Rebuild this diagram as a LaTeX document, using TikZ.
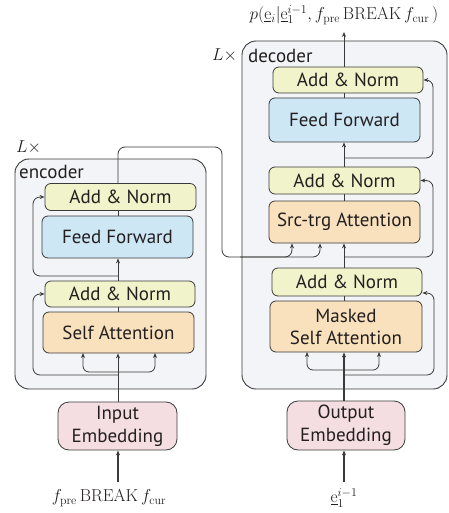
\documentclass[tikz,border=0pt]{standalone}
\usepackage[no-math]{fontspec}
\setmainfont{PT Sans}
\usetikzlibrary{arrows.meta,calc}
\definecolor{anfill}{HTML}{F1F3CB}
\definecolor{fffill}{HTML}{CDE7F5}
\definecolor{attfill}{HTML}{F8E1BC}
\definecolor{embfill}{HTML}{F5DEE2}
\definecolor{outfill}{HTML}{F3F4F7}
\definecolor{edge}{HTML}{3A3A3A}
\definecolor{ink}{HTML}{231F20}
\begin{document}
\begin{tikzpicture}[x=1pt,y=-1pt,
  blk/.style={draw=edge,line width=0.8pt,rounded corners=6pt,font=\fontsize{19}{22}\selectfont,text=ink,inner sep=0pt,align=center},
  an/.style={blk,fill=anfill},
  ffb/.style={blk,fill=fffill},
  att/.style={blk,fill=attfill},
  emb/.style={blk,fill=embfill,rounded corners=11pt},
  outer/.style={draw=edge,line width=0.9pt,fill=outfill,rounded corners=14pt},
  conn/.style={draw=edge,line width=0.8pt},
  arr/.style={conn,-{Stealth[length=5pt,width=4pt]}},
  thick arr/.style={arr,line width=1.5pt},
  lbl/.style={font=\fontsize{19}{22}\selectfont,text=ink,inner sep=0pt,anchor=west},
  mth/.style={font=\fontsize{17}{19}\selectfont,text=ink,inner sep=0pt}
]
\useasboundingbox (0,0) rectangle (448,513);
% outer boxes
\node[outer,minimum width=191pt,minimum height=230pt] (enc) at (110.5,274) {};
\node[outer,minimum width=205pt,minimum height=348pt] (dec) at (344.5,215) {};
\node[lbl] (enclbl) at (19,172) {encoder};
\node[lbl] (declbl) at (248,56) {decoder};
\node[mth,anchor=west] (encL) at (16,147) {$L\times$};
\node[mth,anchor=west] (decL) at (212,55) {$L\times$};

% encoder nodes
\node[an,minimum width=151pt,minimum height=27pt] (eAN2) at (120.5,197) {Add \& Norm};
\node[ffb,minimum width=151pt,minimum height=42pt] (eFF) at (117.5,237) {Feed Forward};
\node[an,minimum width=150pt,minimum height=26pt] (eAN1) at (120,294) {Add \& Norm};
\node[att,minimum width=151pt,minimum height=41pt] (eSA) at (118.5,332.5) {Self Attention};
\node[emb,minimum width=119pt,minimum height=48pt] (iemb) at (117.5,426) {Input\\[1pt]Embedding};
\node[mth] (iin) at (109,498) {$f_{\mathrm{pre}}\,\mathrm{BREAK}\,f_{\mathrm{cur}}$};

% decoder nodes
\node[an,minimum width=150pt,minimum height=26pt] (dAN3) at (348,80) {Add \& Norm};
\node[ffb,minimum width=151pt,minimum height=44pt] (dFF) at (344.5,120) {Feed Forward};
\node[an,minimum width=151pt,minimum height=27pt] (dAN2) at (344.5,180.5) {Add \& Norm};
\node[att,minimum width=151pt,minimum height=42pt] (dSTA) at (344.5,222) {Src-trg Attention};
\node[an,minimum width=150pt,minimum height=28pt] (dAN1) at (347,282) {Add \& Norm};
\node[att,minimum width=152pt,minimum height=51pt] (dMSA) at (346,326.5) {Masked\\Self Attention};
\node[emb,minimum width=118pt,minimum height=49pt] (oemb) at (346,425.5) {Output\\[1pt]Embedding};
\node[mth] (oin) at (344,498) {$\underline{\mathrm{e}}_1^{i-1}$};
\node[mth] (out) at (344,15) {$p(\underline{\mathrm{e}}_i|\underline{\mathrm{e}}_1^{i-1},f_{\mathrm{pre}}\,\mathrm{BREAK}\,f_{\mathrm{cur}}\,)$};

% guide coordinates
\coordinate (ex) at (118,0);
\coordinate (dx) at (344,0);
\coordinate (eres) at (33,0);
\coordinate (dres) at (434,0);
\coordinate (ibot) at (118,482);
\coordinate (obot) at (344,482);
\coordinate (otop) at (344,32);

% encoder connectors
\draw[arr,line width=1.2pt] (ibot) -- (iemb.south -| ex);
\draw[arr] (iemb.north -| ex) -- (eSA.south -| ex);
\draw[conn] (eSA.north -| ex) -- (eAN1.south -| ex);
\draw[arr] (eAN1.north -| ex) -- (eFF.south -| ex);
\draw[conn] (eFF.north -| ex) -- (eAN2.south -| ex);
\draw[arr,rounded corners=6pt] ($(ex)+(0,372)$) -| ($(ex)+(-35,353)$);
\draw[arr,rounded corners=6pt] ($(ex)+(0,372)$) -| ($(ex)+(37,353)$);
\draw[arr,rounded corners=7pt] ($(ex)+(0,375)$) -| ($(eres)+(0,320)$) |- (eAN1.west);
\draw[arr,rounded corners=7pt] ($(ex)+(0,276)$) -| ($(eres)+(0,230)$) |- (eAN2.west);

% encoder to decoder
\coordinate (k1) at (222,147);
\coordinate (k2) at (222,257);
\coordinate (k3) at (240,257);
\coordinate (a1) at (292,0);
\coordinate (a2) at (320,0);
\draw[arr,rounded corners=7pt] (eAN2.north -| ex) |- (k1) -- (k2) -| (dSTA.south -| a1);
\draw[arr,rounded corners=7pt] (k3) -| (dSTA.south -| a2);

% decoder connectors
\draw[arr,line width=1.2pt] (obot) -- (oemb.south -| dx);
\draw[thick arr] (oemb.north -| dx) -- (dMSA.south -| dx);
\draw[conn] (dMSA.north -| dx) -- (dAN1.south -| dx);
\draw[arr] (dAN1.north -| dx) -- (dSTA.south -| dx);
\draw[conn] (dSTA.north -| dx) -- (dAN2.south -| dx);
\draw[arr] (dAN2.north -| dx) -- (dFF.south -| dx);
\draw[conn] (dFF.north -| dx) -- (dAN3.south -| dx);
\draw[arr] (dAN3.north -| dx) -- (otop);
\draw[arr,rounded corners=6pt] ($(dx)+(0,370)$) -| ($(dx)+(-37,352)$);
\draw[arr,rounded corners=6pt] ($(dx)+(0,370)$) -| ($(dx)+(35,352)$);
\draw[arr,rounded corners=7pt] ($(dx)+(0,375)$) -| ($(dres)+(0,320)$) |- ($(dAN1.east)+(0,11)$);
\draw[arr,rounded corners=7pt] ($(dx)+(0,257)$) -| ($(dres)+(-1,220)$) |- (dAN2.east);
\draw[arr,rounded corners=7pt] ($(dx)+(0,158)$) -| ($(dres)+(-1,120)$) |- (dAN3.east);
\end{tikzpicture}
\end{document}
